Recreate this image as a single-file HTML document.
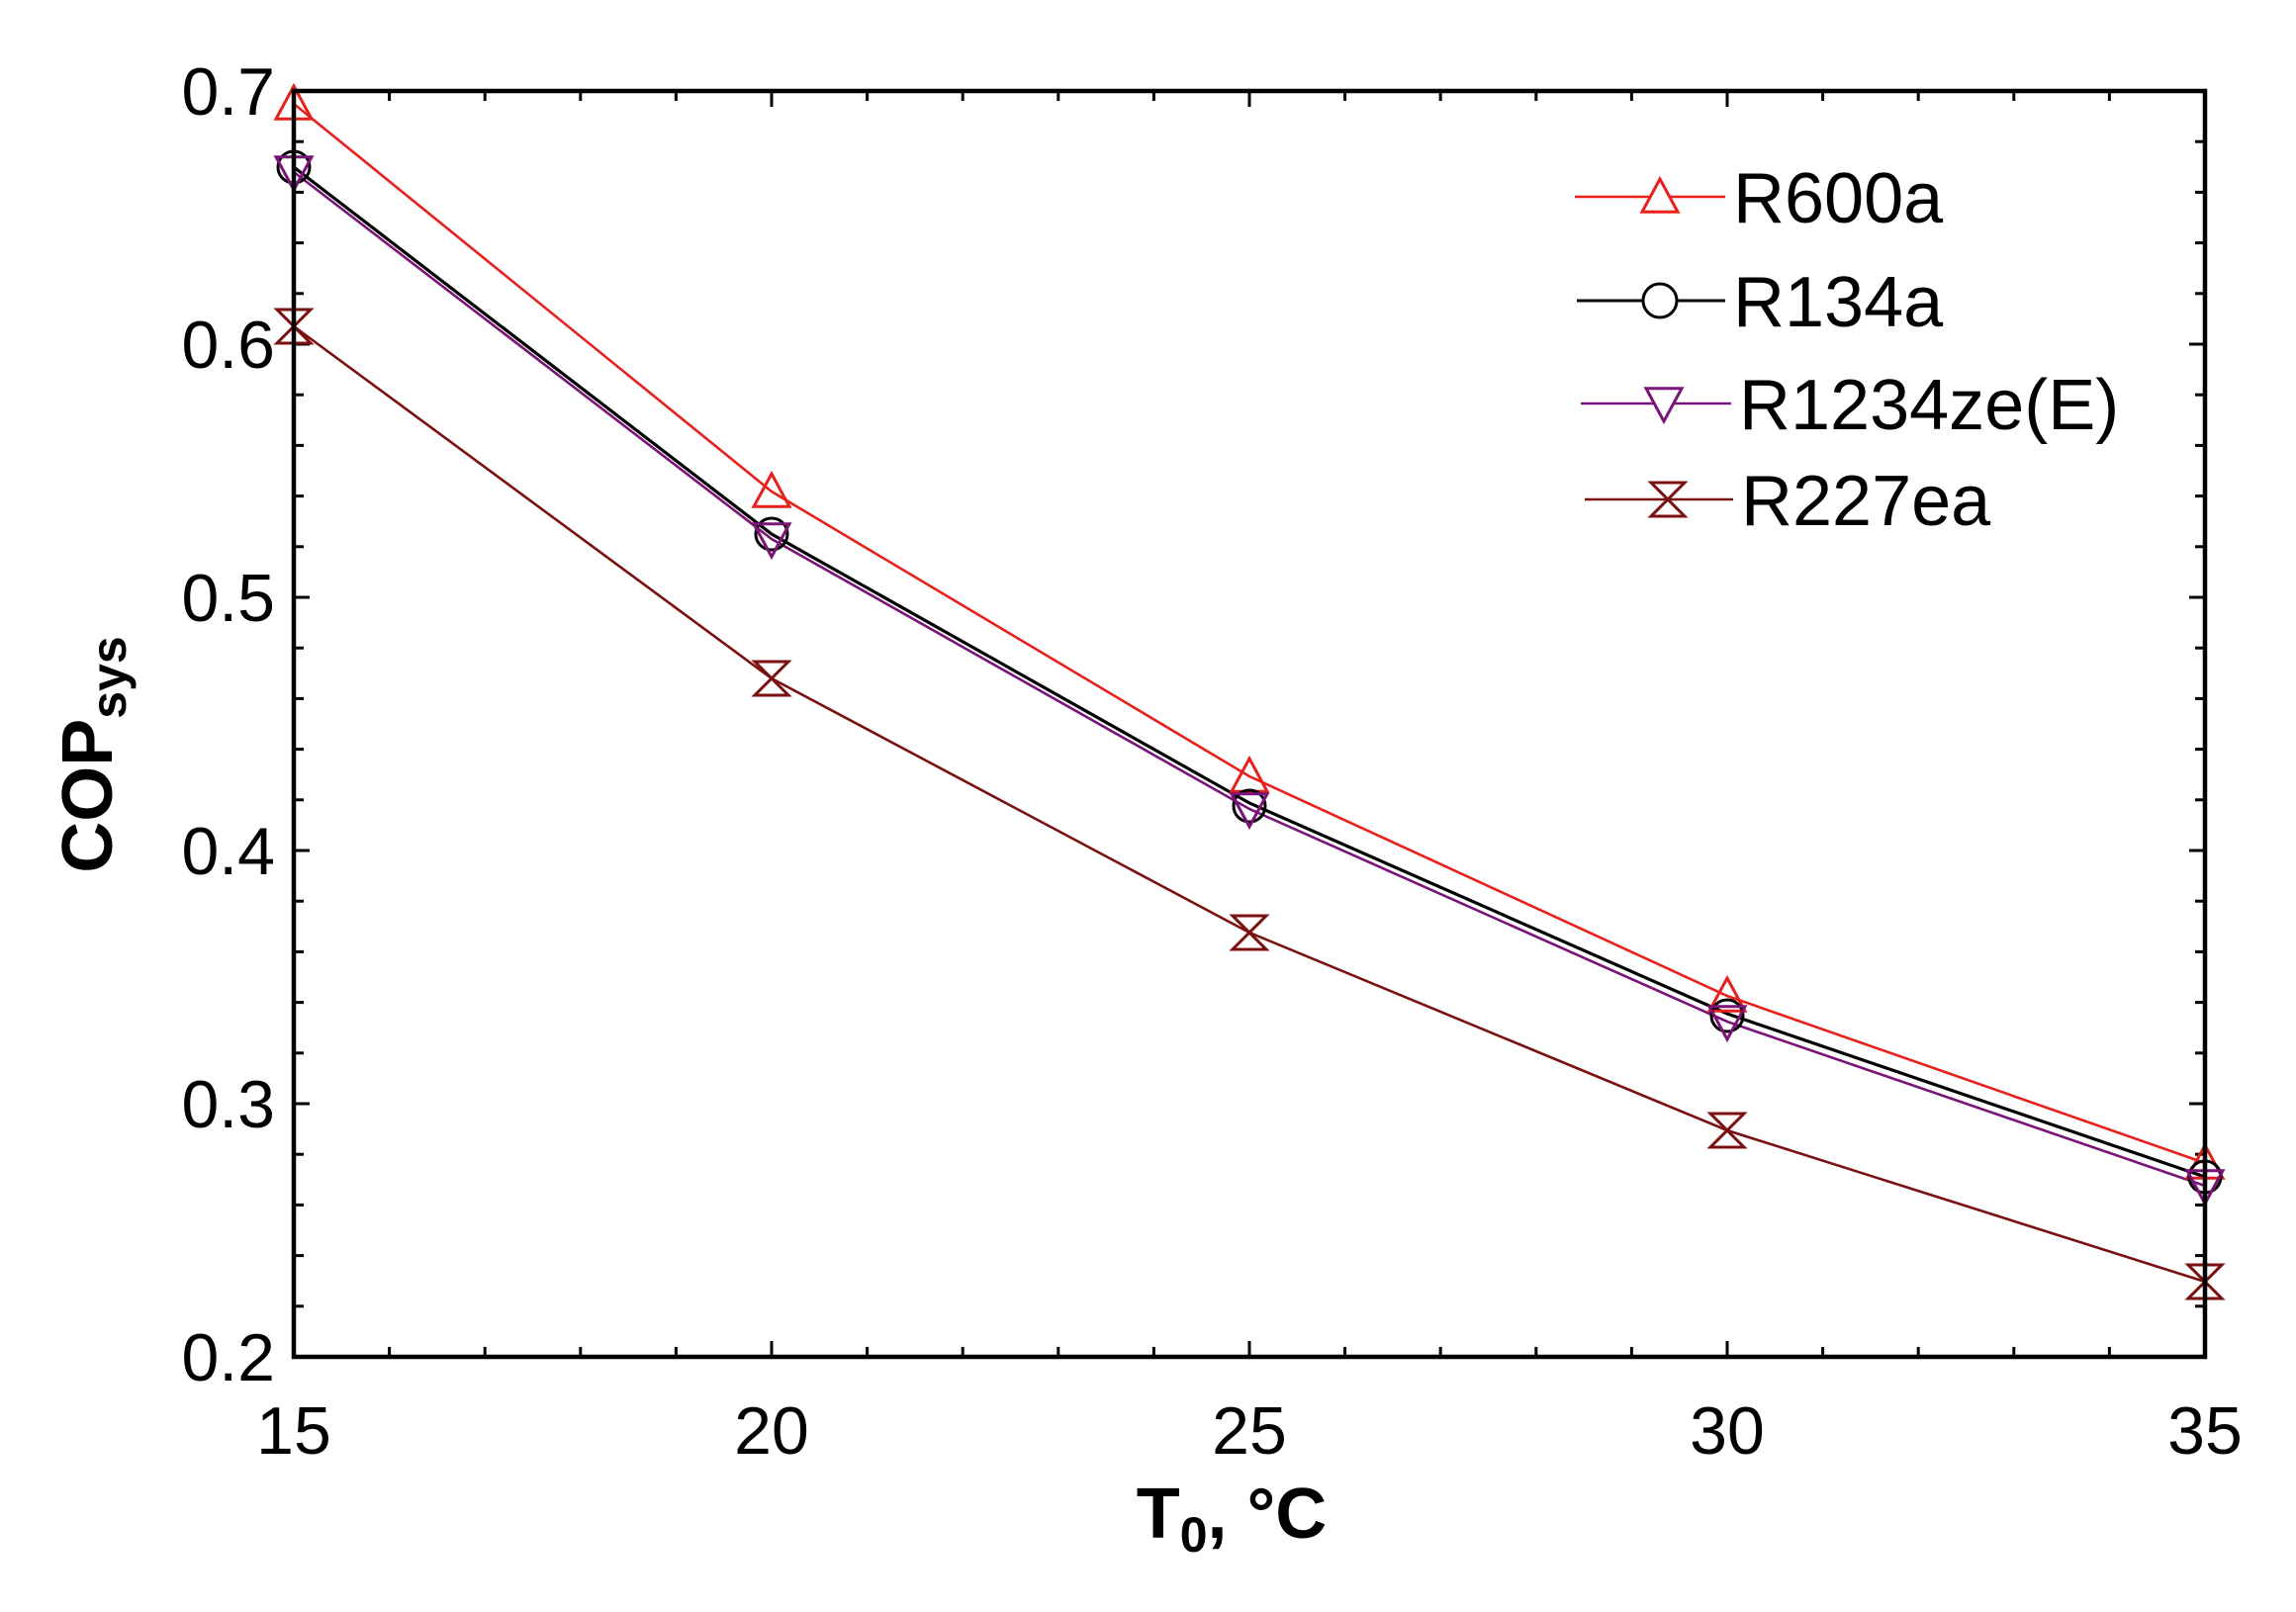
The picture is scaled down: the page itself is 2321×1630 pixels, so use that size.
<!DOCTYPE html>
<html><head><meta charset="utf-8"><style>
html,body{margin:0;padding:0;background:#fff;}
svg{display:block;}
text{font-family:"Liberation Sans",Arial,sans-serif;}
</style></head><body>
<svg width="2321" height="1630" viewBox="0 0 2321 1630" xmlns="http://www.w3.org/2000/svg">
<rect width="2321" height="1630" fill="#fff"/>
<g id="ticks" stroke="#000" stroke-width="3"></g>
<polyline fill="none" stroke="#e8201c" stroke-width="2.6" points="297,105 780,497 1263,785 1746,1007 2229,1176"/>
<polyline fill="none" stroke="#000" stroke-width="3.2" points="297,169 780,540 1263,812 1746,1025 2229,1190"/>
<polyline fill="none" stroke="#7a1478" stroke-width="2.6" points="297,174 780,545 1263,818 1746,1033 2229,1199"/>
<polyline fill="none" stroke="#7a1010" stroke-width="2.6" points="297,330 780,686 1263,943 1746,1143 2229,1296"/>
<g id="markers" fill="none"></g>
<rect x="297" y="92" width="1932" height="1280" fill="none" stroke="#000" stroke-width="4.5"/>
<g font-size="68" text-anchor="end">
<text x="278" y="116">0.7</text>
<text x="278" y="372">0.6</text>
<text x="278" y="628">0.5</text>
<text x="278" y="884">0.4</text>
<text x="278" y="1140">0.3</text>
<text x="278" y="1396">0.2</text>
</g>
<g font-size="68" text-anchor="middle">
<text x="297" y="1470">15</text>
<text x="780" y="1470">20</text>
<text x="1263" y="1470">25</text>
<text x="1746" y="1470">30</text>
<text x="2229" y="1470">35</text>
</g>
<text x="1245" y="1555" font-size="72" font-weight="bold" text-anchor="middle">T<tspan font-size="50" dy="14">0</tspan><tspan dy="-14">, °C</tspan></text>
<text transform="translate(113,763) rotate(-90)" font-size="72" font-weight="bold" text-anchor="middle">COP<tspan font-size="50" dy="14">sys</tspan></text>
<g font-size="72">
<line x1="1592" y1="199" x2="1744" y2="199" stroke="#e8201c" stroke-width="2.6"/>
<text x="1752" y="225">R600a</text>
<line x1="1594" y1="304" x2="1744" y2="304" stroke="#000" stroke-width="3"/>
<text x="1752" y="330">R134a</text>
<line x1="1598" y1="408" x2="1750" y2="408" stroke="#7a1478" stroke-width="2.6"/>
<text x="1758" y="434">R1234ze(E)</text>
<line x1="1602" y1="505" x2="1752" y2="505" stroke="#7a1010" stroke-width="2.6"/>
<text x="1760" y="531">R227ea</text>
</g>
<g id="legm" fill="#fff"></g>
</svg>
<script>
var NS="http://www.w3.org/2000/svg";
function el(p,t,a){var e=document.createElementNS(NS,t);for(var k in a)e.setAttribute(k,a[k]);p.appendChild(e);return e;}
var tk=document.getElementById('ticks');
var L=297,R=2229,T=92,B=1372;
for(var i=0;i<=20;i++){var x=L+i*(R-L)/20;var len=(i%5==0)?16:10;
 el(tk,'line',{x1:x,y1:B,x2:x,y2:B-len});el(tk,'line',{x1:x,y1:T,x2:x,y2:T+len});}
for(var j=0;j<=25;j++){var y=T+j*(B-T)/25;var len=(j%5==0)?16:10;
 el(tk,'line',{x1:L,y1:y,x2:L+len,y2:y});el(tk,'line',{x1:R,y1:y,x2:R-len,y2:y});}
var xs=[297,780,1263,1746,2229];
var s=[[105,497,785,1007,1176],[169,540,815,1027,1190],[174,545,818,1033,1199],[330,686,943,1143,1296]];
var m=document.getElementById('markers');
function up(g,x,y,c,h){el(g,'polygon',{points:(x)+','+(y-h)+' '+(x-h)+','+(y+h*0.85)+' '+(x+h)+','+(y+h*0.85),stroke:c,'stroke-width':3,fill:g.id=='legm'?'#fff':'none'});}
function dn(g,x,y,c,h){el(g,'polygon',{points:(x)+','+(y+h)+' '+(x-h)+','+(y-h*0.85)+' '+(x+h)+','+(y-h*0.85),stroke:c,'stroke-width':3,fill:g.id=='legm'?'#fff':'none'});}
function ci(g,x,y,c,h){el(g,'circle',{cx:x,cy:y,r:h,stroke:c,'stroke-width':3,fill:g.id=='legm'?'#fff':'none'});}
function hg(g,x,y,c,h){el(g,'polygon',{points:(x-h)+','+(y-h)+' '+(x+h)+','+(y-h)+' '+(x-h)+','+(y+h)+' '+(x+h)+','+(y+h),stroke:c,'stroke-width':3,fill:'none'});}
for(var i=0;i<5;i++){
 up(m,xs[i],s[0][i],'#e8201c',18);
 ci(m,xs[i],s[1][i],'#000',16);
 dn(m,xs[i],s[2][i],'#7a1478',18);
 hg(m,xs[i],s[3][i],'#7a1010',17);
}
var lg=document.getElementById('legm');
up(lg,1678,199,'#e8201c',18);
ci(lg,1678,304,'#000',17);
dn(lg,1682,408,'#7a1478',18);
hg(lg,1686,505,'#7a1010',17);
</script>
</body></html>
